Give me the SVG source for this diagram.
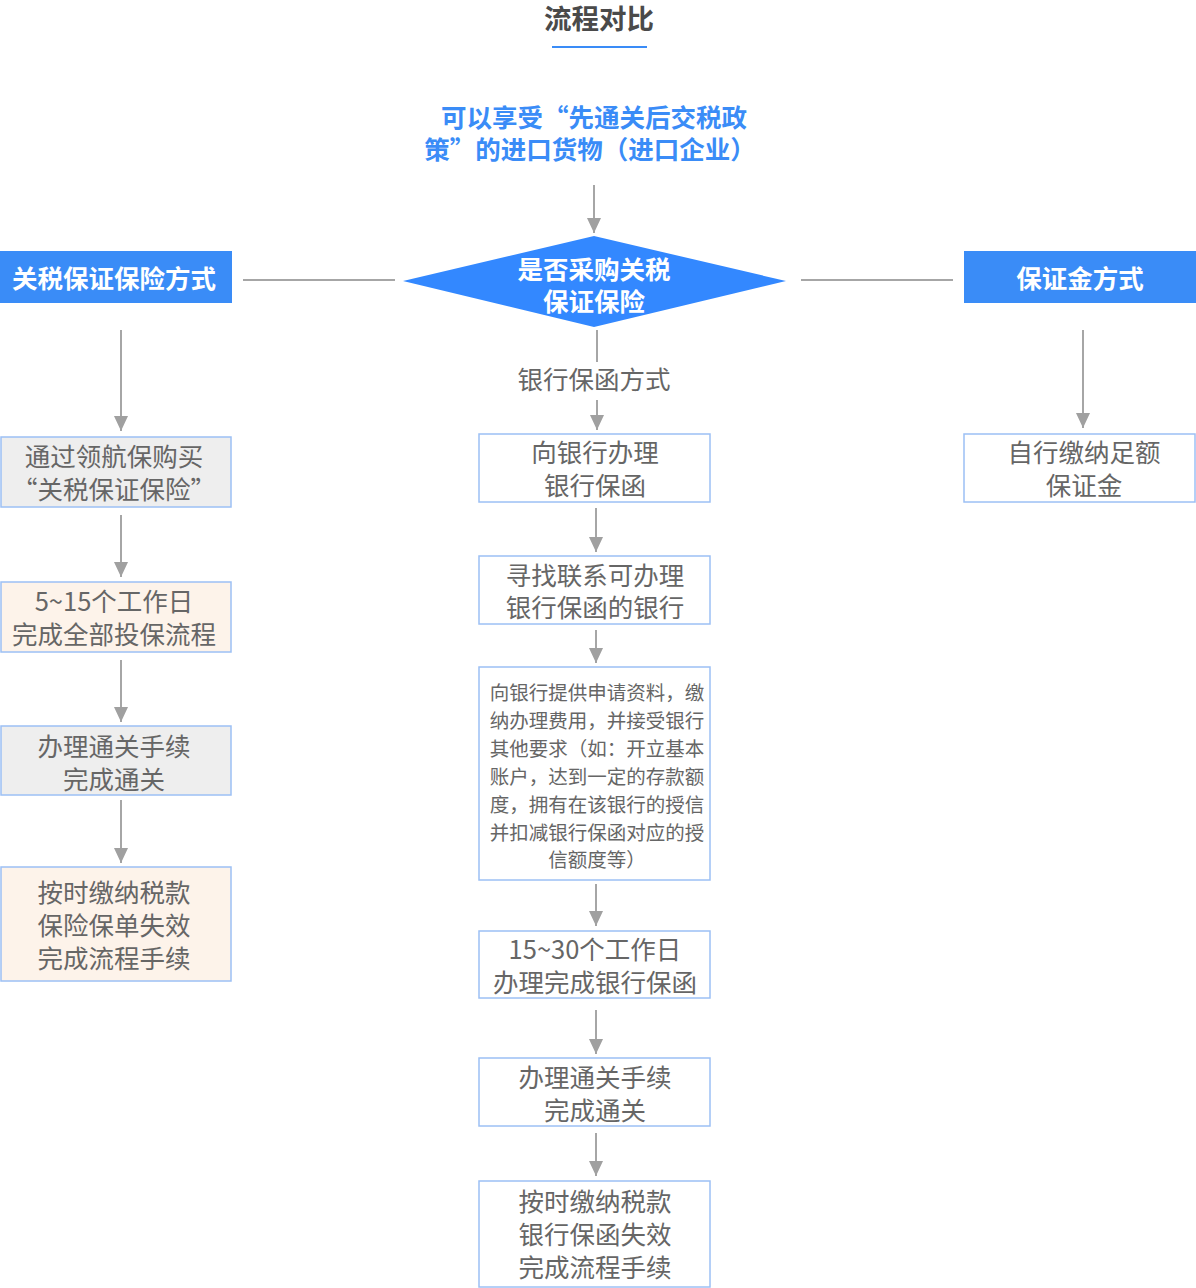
<svg xmlns="http://www.w3.org/2000/svg" width="1196" height="1288" viewBox="0 0 1196 1288">
<defs>
<style>
text{font-family:"Noto Sans CJK SC","Noto Sans",sans-serif;text-anchor:middle}
.t{font-size:25.5px;fill:#666}
.s{font-size:19.5px;fill:#666}
.w{font-size:25.5px;fill:#fff;font-weight:bold}
.b{font-size:25.5px;fill:#3a8cf7;font-weight:bold}
.gray{fill:#eeeeee;stroke:#9cc0f5;stroke-width:1.5}
.peach{fill:#fdf3ea;stroke:#9cc0f5;stroke-width:1.5}
.white{fill:#fff;stroke:#9cc0f5;stroke-width:1.5}
.ln{stroke:#a6a6a6;stroke-width:2;fill:none}
.ar{stroke:#a6a6a6;stroke-width:2;fill:none;marker-end:url(#ah)}
</style>
<marker id="ah" markerWidth="16" markerHeight="14" refX="15" refY="7" orient="auto" markerUnits="userSpaceOnUse">
<path d="M0,0 L15,7 L0,14 Z" fill="#a0a0a0"/>
</marker>
</defs>
<rect width="1196" height="1288" fill="#fff"/>
<g id="title">
<text x="599" y="29" style="font-size:27.5px;font-weight:bold;fill:#4a4a4a">流程对比</text>
<line x1="552" y1="47" x2="647" y2="47" stroke="#3a8cf7" stroke-width="2"/>
</g>
<g id="start">
<text class="b" x="594" y="127">可以享受“先通关后交税政</text>
<text class="b" x="590" y="159">策”的进口货物（进口企业）</text>
</g>
<g id="decision">
<polygon points="403,281 594,236 786,281 594,327" fill="#3388ff"/>
<text class="w" x="594" y="279">是否采购关税</text>
<text class="w" x="594" y="311">保证保险</text>
</g>
<g id="insurance">
<rect x="0" y="251" width="232" height="52" fill="#3a8cf7"/>
<text class="w" x="114" y="288">关税保证保险方式</text>
</g>
<g id="deposit">
<rect x="964" y="251" width="232" height="52" fill="#3a8cf7"/>
<text class="w" x="1080" y="288">保证金方式</text>
</g>
<g id="L1"><rect class="gray" x="1" y="437" width="230" height="70"/>
<text class="t" x="114" y="466">通过领航保购买</text><text class="t" x="114" y="499">“关税保证保险”</text></g>
<g id="L2"><rect class="peach" x="1" y="582" width="230" height="70"/>
<text class="t" x="114" y="611">5~15个工作日</text><text class="t" x="114" y="644">完成全部投保流程</text></g>
<g id="L3"><rect class="gray" x="1" y="726" width="230" height="69"/>
<text class="t" x="114" y="756">办理通关手续</text><text class="t" x="114" y="789">完成通关</text></g>
<g id="L4"><rect class="peach" x="1" y="867" width="230" height="114"/>
<text class="t" x="114" y="902">按时缴纳税款</text><text class="t" x="114" y="935">保险保单失效</text><text class="t" x="114" y="968">完成流程手续</text></g>
<g id="C1"><rect class="white" x="479" y="434" width="231" height="68"/>
<text class="t" x="595" y="462">向银行办理</text><text class="t" x="595" y="495">银行保函</text></g>
<g id="C2"><rect class="white" x="479" y="556" width="231" height="68"/>
<text class="t" x="595" y="585">寻找联系可办理</text><text class="t" x="595" y="617">银行保函的银行</text></g>
<g id="C3"><rect class="white" x="479" y="667" width="231" height="213"/>
<text class="s" x="597" y="700">向银行提供申请资料，缴</text>
<text class="s" x="597" y="728">纳办理费用，并接受银行</text>
<text class="s" x="597" y="756">其他要求（如：开立基本</text>
<text class="s" x="597" y="784">账户，达到一定的存款额</text>
<text class="s" x="597" y="812">度，拥有在该银行的授信</text>
<text class="s" x="597" y="840">并扣减银行保函对应的授</text>
<text class="s" x="597" y="867">信额度等）</text></g>
<g id="C4"><rect class="white" x="479" y="931" width="231" height="67"/>
<text class="t" x="595" y="959">15~30个工作日</text><text class="t" x="595" y="992">办理完成银行保函</text></g>
<g id="C5"><rect class="white" x="479" y="1058" width="231" height="68"/>
<text class="t" x="595" y="1087">办理通关手续</text><text class="t" x="595" y="1120">完成通关</text></g>
<g id="C6"><rect class="white" x="479" y="1181" width="231" height="106"/>
<text class="t" x="595" y="1211">按时缴纳税款</text><text class="t" x="595" y="1244">银行保函失效</text><text class="t" x="595" y="1277">完成流程手续</text></g>
<g id="R1"><rect class="white" x="964" y="434" width="231" height="68"/>
<text class="t" x="1084" y="462">自行缴纳足额</text><text class="t" x="1084" y="495">保证金</text></g>
<g id="connectors">
<line class="ar" x1="594" y1="185" x2="594" y2="233"/>
<line class="ln" x1="243" y1="280" x2="395" y2="280"/>
<line class="ln" x1="801" y1="280" x2="953" y2="280"/>
<line class="ar" x1="121" y1="330" x2="121" y2="431"/>
<line class="ar" x1="1083" y1="330" x2="1083" y2="428"/>
<line class="ln" x1="597" y1="330" x2="597" y2="362"/>
<text class="t" x="594" y="389">银行保函方式</text>
<line class="ar" x1="597" y1="400" x2="597" y2="430"/>
<line class="ar" x1="121" y1="515" x2="121" y2="577"/>
<line class="ar" x1="121" y1="660" x2="121" y2="722"/>
<line class="ar" x1="121" y1="800" x2="121" y2="863"/>
<line class="ar" x1="596" y1="508" x2="596" y2="552"/>
<line class="ar" x1="596" y1="630" x2="596" y2="663"/>
<line class="ar" x1="596" y1="884" x2="596" y2="926"/>
<line class="ar" x1="596" y1="1010" x2="596" y2="1054"/>
<line class="ar" x1="596" y1="1133" x2="596" y2="1176"/>
</g>
</svg>
